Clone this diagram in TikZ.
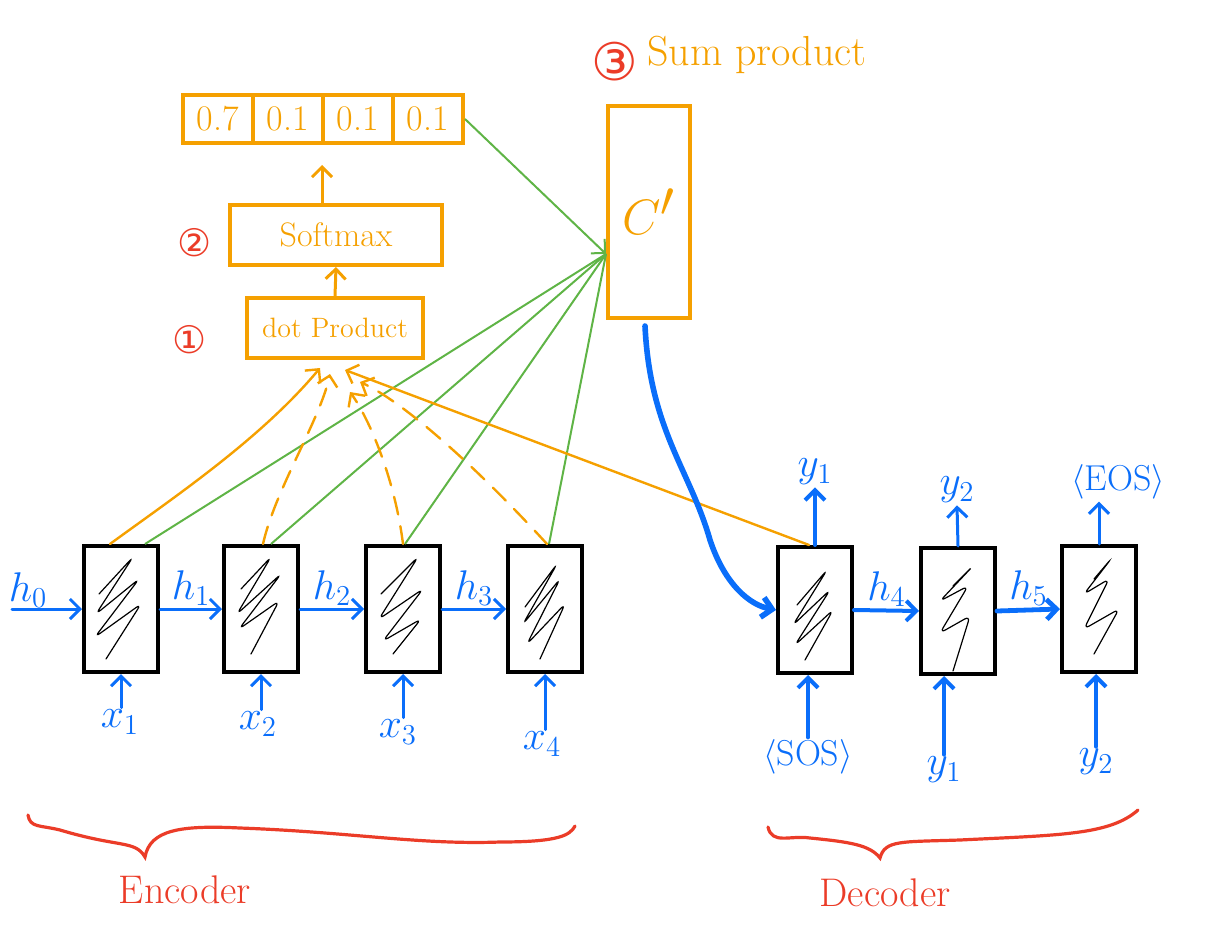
\documentclass[tikz,border=0pt]{standalone}
\usepackage{fontspec}
\newfontfamily\dejavu{DejaVu Sans}
\usetikzlibrary{arrows.meta,calc}
\definecolor{orng}{RGB}{245,160,0}
\definecolor{blu}{RGB}{10,110,250}
\definecolor{grn}{RGB}{95,180,70}
\definecolor{rd}{RGB}{235,60,40}
\begin{document}
\begin{tikzpicture}[x=0.5pt,y=-0.5pt,
  cell/.style={draw=black, line width=2pt, minimum width=37pt, minimum height=63pt, inner sep=0pt},
  obox/.style={draw=orng, line width=2pt, inner sep=0pt, text=orng},
  tip/.style={-{Straight Barb[length=5pt,width=10pt]}},
  barrow/.style={draw=blu, line width=1.5pt, line cap=round, tip},
  garrow/.style={draw=grn, line width=1pt},
  oline/.style={draw=orng, line width=1.2pt, line cap=round},
  odash/.style={oline, dash pattern=on 9pt off 6pt},
  oarrow/.style={draw=orng, line width=1.5pt, tip},
  lbl/.style={text=blu, font=\fontsize{20}{22}\selectfont, inner sep=1pt},
  scrib/.style={draw=black, line width=0.6pt, rounded corners=3pt, line cap=round},
  brace/.style={draw=rd, line width=1.6pt, line cap=round},
  redtxt/.style={text=rd, font=\fontsize{20}{20}\selectfont}]
\useasboundingbox (0,0) rectangle (1208,930);

% ---------------- encoder cells
\node[cell] (e1) at (121,609) {};
\node[cell] (e2) at (261,609) {};
\node[cell] (e3) at (403,609) {};
\node[cell] (e4) at (545,609) {};
% ---------------- decoder cells
\node[cell] (d1) at (815,610) {};
\node[cell] (d2) at (958,611) {};
\node[cell] (d3) at (1099,609) {};

% scribbles
\draw[scrib, shift={(e1)}] (-22,-15) -- (12,-52) -- (-25,5) -- (18,-30) -- (-26,28) -- (20,-5) -- (-15,50);
\draw[scrib, shift={(e2)}] (-20,-20) -- (10,-52) -- (-24,5) -- (20,-35) -- (-22,20) -- (18,-8) -- (-10,45);
\draw[scrib, shift={(e3)}] (-22,-15) -- (15,-52) -- (-24,10) -- (20,-20) -- (-20,32) -- (18,10) -- (-10,45);
\draw[scrib, shift={(e4)}] (-20,-2) -- (12,-45) -- (-22,15) -- (15,-30) -- (-18,35) -- (20,-5) -- (-5,50);
\draw[scrib, shift={(d1)}] (-18,-5) -- (12,-40) -- (-22,15) -- (15,-20) -- (-20,35) -- (18,0) -- (-10,50);
\draw[scrib, shift={(d2)}] (-5,-25) -- (15,-45) -- (-18,-10) -- (10,-25) -- (-18,22) -- (12,5) -- (-5,60);
\draw[scrib, shift={(d3)}] (-5,-30) -- (12,-50) -- (-15,-15) -- (10,-30) -- (-15,20) -- (20,0) -- (-5,45);

% ---------------- hidden state arrows
\coordinate (h0s) at (12,609);
\node[lbl] (lh0) at (28,590) {$h_0$};
\draw[barrow] (h0s) -- (e1.west);
\draw[barrow] (e1.east) -- node[lbl, above] (lh1) {$h_1$} (e2.west);
\draw[barrow] (e2.east) -- node[lbl, above] (lh2) {$h_2$} (e3.west);
\draw[barrow] (e3.east) -- node[lbl, above] (lh3) {$h_3$} (e4.west);
\draw[barrow, line width=2pt] (d1.east) -- node[lbl, above] (lh4) {$h_4$} (d2.west);
\draw[barrow, line width=2.4pt] (d2.east) -- node[lbl, above] (lh5) {$h_5$} (d3.west);

% ---------------- inputs
\node[lbl] (lx1) at (120,722) {$x_1$};
\node[lbl] (lx2) at (258,724) {$x_2$};
\node[lbl] (lx3) at (398,732) {$x_3$};
\node[lbl] (lx4) at (542,744) {$x_4$};
\draw[barrow] (e1.south |- lx1.north) -- (e1.south);
\draw[barrow] (e2.south |- lx2.north) -- (e2.south);
\draw[barrow] (e3.south |- lx3.north) -- (e3.south);
\draw[barrow] (e4.south |- lx4.north) -- (e4.south);

\node[lbl, font=\fontsize{18}{20}\selectfont] (lsos) at (808,757) {$\langle$SOS$\rangle$};
\node[lbl] (ly1in) at (944,770) {$y_1$};
\node[lbl] (ly2in) at (1096,762) {$y_2$};
\draw[barrow, line width=2pt] (lsos.north) -- (lsos.north |- d1.south);
\draw[barrow, line width=2pt] (ly1in.north) -- (ly1in.north |- d2.south);
\draw[barrow, line width=2pt] (ly2in.north) -- (ly2in.north |- d3.south);

% ---------------- outputs
\node[lbl] (ly1) at (815,472) {$y_1$};
\node[lbl] (ly2) at (957,490) {$y_2$};
\node[lbl, font=\fontsize{18}{20}\selectfont] (leos) at (1118,482) {$\langle$EOS$\rangle$};
\draw[barrow, line width=2pt] (d1.north) -- (ly1.south);
\draw[barrow] (d2.north) -- (ly2.south);
\draw[barrow] (d3.north) -- (d3.north |- leos.south);

% ---------------- attention stack
\node[obox, minimum width=88pt, minimum height=30pt, font=\fontsize{14}{14}\selectfont] (dp) at (335,328) {dot Product};
\node[obox, minimum width=106pt, minimum height=30pt, font=\fontsize{17}{17}\selectfont] (sm) at (336,235) {Softmax};
\node[obox, minimum width=35pt, minimum height=24pt, font=\fontsize{18}{18}\selectfont] (p1) at (218,119) {0.7};
\node[obox, minimum width=35pt, minimum height=24pt, font=\fontsize{18}{18}\selectfont] (p2) at (288,119) {0.1};
\node[obox, minimum width=35pt, minimum height=24pt, font=\fontsize{18}{18}\selectfont] (p3) at (358,119) {0.1};
\node[obox, minimum width=35pt, minimum height=24pt, font=\fontsize{18}{18}\selectfont] (p4) at (428,119) {0.1};
\draw[oarrow] (dp.north) -- (sm.south);
\draw[oarrow, shorten >=10pt] ([xshift=-7pt]sm.north) -- ([xshift=-7pt]sm.north |- p1.south);

\node[text=rd, font=\dejavu\fontsize{19}{19}\selectfont] (n1) at (190,340) {①};
\node[text=rd, font=\dejavu\fontsize{19}{19}\selectfont] (n2) at (195,243) {②};
\node[text=rd, font=\dejavu\fontsize{26}{26}\selectfont] (n3) at (615,62) {③};
\node[text=orng, font=\fontsize{21}{21}\selectfont, anchor=west] (sp) at (640,55) {Sum product};

% context vector
\node[obox, minimum width=41pt, minimum height=106pt, font=\fontsize{40}{40}\selectfont] (cp) at (649,212) {$C'$};

% ---------------- green connectors
\coordinate (cin) at ([yshift=-21pt]cp.west);
\draw[garrow, tip] (p4.east) -- (cin);
\draw[garrow] ([xshift=12pt]e1.north) -- (cin);
\draw[garrow] ([xshift=5pt]e2.north) -- (cin);
\draw[garrow] ([xshift=1pt]e3.north) -- (cin);
\draw[garrow] ([xshift=2pt]e4.north) -- (cin);

% ---------------- orange connectors into dot product
\coordinate (a1) at ([xshift=-7.5pt,yshift=-4pt]dp.south);
\coordinate (a2) at ([xshift=-2.5pt,yshift=-7pt]dp.south);
\coordinate (a3) at ([xshift=7.5pt,yshift=-16pt]dp.south);
\coordinate (a4) at ([xshift=12.5pt,yshift=-11pt]dp.south);
\coordinate (a5) at ([xshift=5pt,yshift=-5pt]dp.south);
\draw[oline, tip] ([xshift=-5.5pt]e1.north) .. controls (170,500) and (260,440) .. (a1);
\draw[odash, tip] ([xshift=1pt]e2.north) .. controls (275,490) and (320,420) .. (a2);
\draw[odash, tip] (e3.north) .. controls (395,480) and (370,420) .. (a3);
\draw[odash, tip] ([xshift=1pt]e4.north) .. controls (470,460) and (400,400) .. (a4);
\draw[oline, tip] ([xshift=-3pt]d1.north) -- (a5);

% ---------------- context to decoder
\draw[barrow, line width=2.8pt] ([xshift=-2pt,yshift=-3pt]cp.south) .. controls (650,430) and (690,470) .. (710,540) .. controls (725,585) and (750,605) .. (d1.west);

% ---------------- braces
\draw[brace] (28,815) .. controls (30,828) and (40,825) .. (60,830) .. controls (120,848) and (135,840) .. (145,857) .. controls (150,830) and (180,825) .. (240,828) .. controls (350,832) and (420,845) .. (500,842) .. controls (560,842) and (570,835) .. (575,826);
\draw[brace] (768,827) .. controls (772,845) and (790,835) .. (810,838) .. controls (850,842) and (870,845) .. (880,858) .. controls (885,840) and (900,842) .. (960,840) .. controls (1060,835) and (1110,835) .. (1138,810);
\node[redtxt] (enc) at (185,890) {Encoder};
\node[redtxt] (dec) at (885,893) {Decoder};
\end{tikzpicture}
\end{document}
